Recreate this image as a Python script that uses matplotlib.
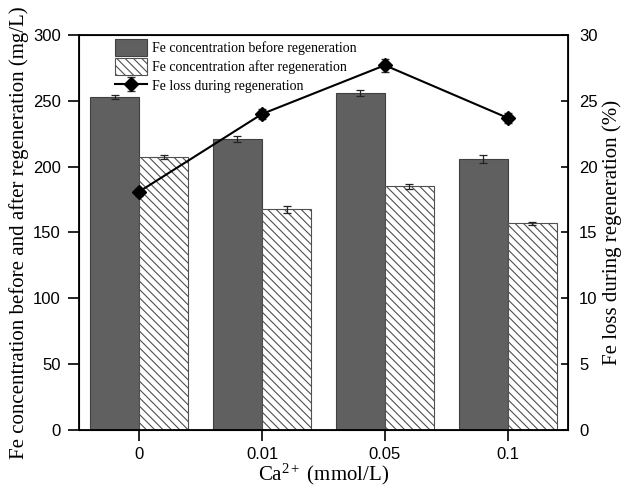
import matplotlib
matplotlib.use("Agg")
import matplotlib.pyplot as plt
import numpy as np

# data
categories = ["0", "0.01", "0.05", "0.1"]
fe_before = [253, 221, 256, 206]
fe_before_err = [1.5, 2.5, 2.5, 3.0]
fe_after = [207, 167.5, 185, 157]
fe_after_err = [1.5, 2.5, 2.0, 1.0]
fe_loss = [18.1, 24.0, 27.7, 23.7]
fe_loss_err = [0.3, 0.4, 0.5, 0.4]

serif = "Liberation Serif"
sans = "Liberation Sans"
plt.rcParams['font.family'] = sans
plt.rcParams['hatch.color'] = '#404040'
plt.rcParams['hatch.linewidth'] = 0.8
plt.rcParams['mathtext.fontset'] = 'custom'
plt.rcParams['mathtext.rm'] = serif
plt.rcParams['mathtext.it'] = serif + ':italic'

fig = plt.figure(figsize=(6.22, 4.94), dpi=100)
ax = fig.add_axes([0.127, 0.1296, 0.786, 0.7996])

x = np.arange(len(categories))
w = 0.4
#bars
b1 = ax.bar(x - w/2, fe_before, w, color='#606060', edgecolor='#404040', linewidth=0.8,
            yerr=fe_before_err, capsize=3, error_kw=dict(elinewidth=0.9, capthick=0.9, ecolor='#222222'),
            label="Fe concentration before regeneration")
b2 = ax.bar(x + w/2, fe_after, w, color='white', edgecolor='#505050', linewidth=0.8, hatch='\\\\\\\\',
            yerr=fe_after_err, capsize=3, error_kw=dict(elinewidth=0.9, capthick=0.9, ecolor='#222222'),
            label="Fe concentration after regeneration")

ax.set_xlim(-0.49, 3.49)
ax.set_ylim(0, 300)
ax.set_yticks(range(0, 301, 50))
ax.set_xticks(x)
ax.set_xticklabels(categories)
ax.tick_params(axis='both', direction='out', length=8, width=1.2, labelsize=12)
ax.tick_params(axis='x', pad=4)
ax.tick_params(axis='y', pad=5)
for s in ax.spines.values():
    s.set_linewidth(1.3)
ax.set_ylabel("Fe concentration before and after regeneration (mg/L)", fontfamily=serif, fontsize=15, labelpad=3)
ax.set_xlabel(r"Ca$^{\mathrm{2+}}$ (mmol/L)", fontfamily=serif, fontsize=15, labelpad=0)

#line on second axis
ax2 = ax.twinx()
ln = ax2.errorbar(x, fe_loss, yerr=fe_loss_err, color='black', marker='D', markersize=7, linewidth=1.5,
                  capsize=3, elinewidth=0.9, ecolor='#333333', label="Fe loss during regeneration")
ax2.set_ylim(0, 30)
ax2.set_yticks(range(0, 31, 5))
ax2.tick_params(axis='y', direction='in', length=5, width=1.2, labelsize=12, pad=8)
ax2.set_ylabel("Fe loss during regeneration (%)", fontfamily=serif, fontsize=15, labelpad=3)

handles = [b1, b2, ln]
labels = [h.get_label() for h in handles]
leg = ax2.legend(handles, labels, loc='upper left', bbox_to_anchor=(0.065, 1.0), frameon=False,
                 prop={'family': serif, 'size': 10}, handlelength=2.3, handleheight=1.5,
                 handletextpad=0.4, labelspacing=0.15, borderpad=0.2, borderaxespad=0.1)

fig.savefig("out.png", dpi=100)
